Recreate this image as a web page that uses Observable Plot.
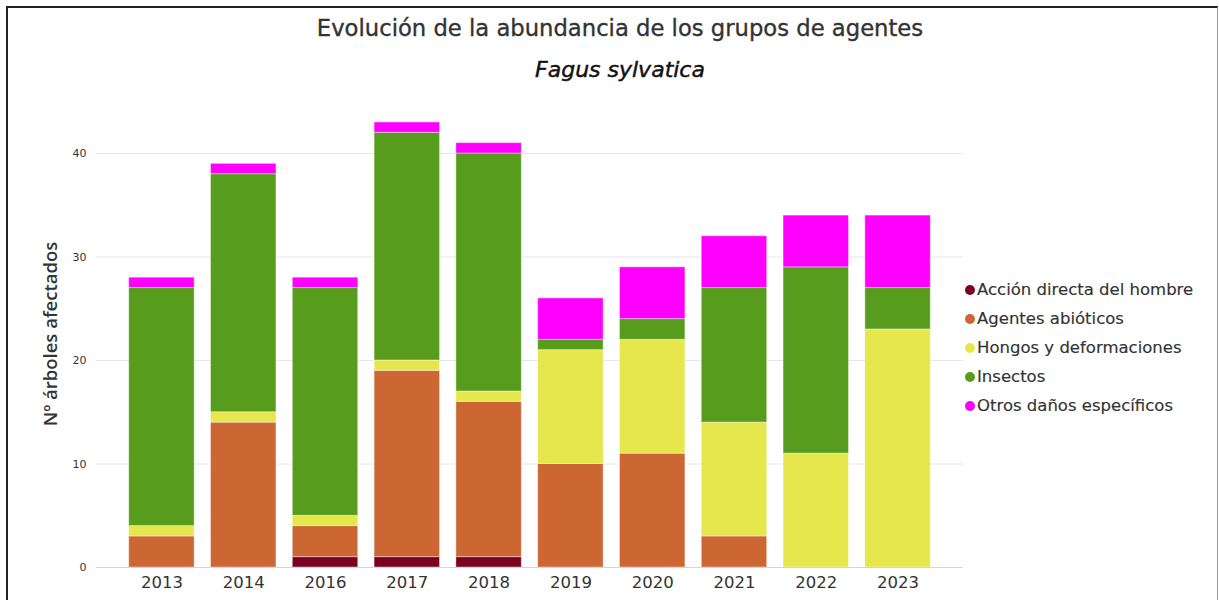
<!DOCTYPE html>
<html>
<head>
<meta charset="utf-8">
<script src="https://cdn.jsdelivr.net/npm/d3@7"></script>
<script src="https://cdn.jsdelivr.net/npm/@observablehq/plot@0.6"></script>
<style>
  html, body { margin: 0; padding: 0; background: #fff; }
  #wrap { position: relative; width: 1219px; height: 600px; overflow: hidden; }
  #frame { position: absolute; left: 6px; top: 6px; width: 1209px; height: 700px;
           border-top: 2px solid #222; border-left: 2px solid #222; border-right: 1px solid #999; }
  #chart { position: absolute; left: 0; top: 0; }
  .title { position: absolute; left: 0; width: 1240px; text-align: center; font-family: "DejaVu Sans", sans-serif; color: #333; font-size: 22.7px; line-height: 30px; -webkit-text-stroke: 0.35px currentColor; }
  #ytitle { position: absolute; left: 49px; top: 334px; transform: translate(-50%, -50%) rotate(-90deg);
            font-family: "Open Sans", sans-serif; font-weight: 600; font-size: 18.5px; color: #333; white-space: nowrap; }
  #legend { position: absolute; left: 965px; top: 277px; font-family: "DejaVu Sans", sans-serif; font-size: 16.5px; color: #333; -webkit-text-stroke: 0.15px currentColor; }
  #legend div { height: 29px; line-height: 26px; white-space: nowrap; }
  #legend span.dot { display: inline-block; width: 10px; height: 10px; border-radius: 50%; margin-right: 2px; }
</style>
</head>
<body>
<div id="wrap">
  <div id="frame"></div>
  <div id="chart"></div>
  <div class="title" style="top: 13px;">Evolución de la abundancia de los grupos de agentes</div>
  <div class="title" style="top: 55px; font-style: italic; color: #111; font-size: 22px; -webkit-text-stroke: 0.45px #111;">Fagus sylvatica</div>
  <div id="ytitle">Nº árboles afectados</div>
  <div id="legend"></div>
</div>
<script>
const years = ["2013", "2014", "2016", "2017", "2018", "2019", "2020", "2021", "2022", "2023"];
const groups = ["Acción directa del hombre", "Agentes abióticos", "Hongos y deformaciones", "Insectos", "Otros daños específicos"];
const colors = ["#7b0023", "#cc6633", "#e6e64d", "#579c1c", "#ff00ff"];
const accion   = [0, 0, 1, 1, 1, 0, 0, 0, 0, 0];
const abioticos = [3, 14, 3, 18, 15, 10, 11, 3, 0, 0];
const hongos   = [1, 1, 1, 1, 1, 11, 11, 11, 11, 23];
const insectos = [23, 23, 22, 22, 23, 1, 2, 13, 18, 4];
const otros    = [1, 1, 1, 1, 1, 4, 5, 5, 5, 7];
const yTicks = [0, 10, 20, 30, 40];

const series = [accion, abioticos, hongos, insectos, otros];
const data = [];
years.forEach((yr, i) => {
  groups.forEach((g, j) => data.push({year: yr, group: g, value: series[j][i]}));
});

const chart = Plot.plot({
  width: 1219,
  height: 600,
  marginLeft: 96,
  marginRight: 256,
  marginTop: 101.25,
  marginBottom: 33,
  style: {fontFamily: "DejaVu Sans, sans-serif", color: "#333", background: "transparent"},
  x: {domain: years, paddingInner: 0.2, paddingOuter: 0.4, round: false, label: null},
  y: {domain: [0, 45], label: null},
  color: {domain: groups, range: colors},
  marks: [
    Plot.ruleY(yTicks, {stroke: "#e6e6e6", strokeWidth: 1}),
    Plot.barY(data, {x: "year", y: "value", fill: "group", stroke: "white", strokeWidth: 1, strokeOpacity: 0.4}),
    Plot.ruleY([0], {stroke: "#ccd6eb", strokeWidth: 1}),
    Plot.axisX({tickSize: 0, tickPadding: 9, fontSize: 16.5, fill: "#333"}),
    Plot.axisY({ticks: yTicks, tickSize: 0, tickPadding: 10, fontSize: 11, fill: "#333"})
  ]
});
document.getElementById("chart").appendChild(chart);

const legend = document.getElementById("legend");
groups.forEach((g, j) => {
  const row = document.createElement("div");
  const dot = document.createElement("span");
  dot.className = "dot";
  dot.style.background = colors[j];
  row.appendChild(dot);
  row.appendChild(document.createTextNode(g));
  legend.appendChild(row);
});
</script>
</body>
</html>
